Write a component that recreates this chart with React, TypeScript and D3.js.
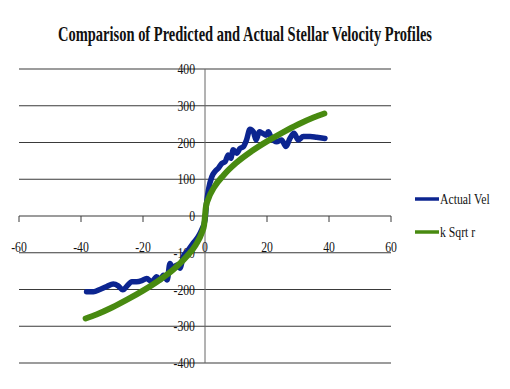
import React, { useRef, useLayoutEffect, useState } from 'react';
import * as d3 from 'd3';

// chart size in the page
const W = 510;
const H = 389;

// values
const xTicks = [-60, -40, -20, 0, 20, 40, 60];
const yTicks = [400, 300, 200, 100, 0, -100, -200, -300, -400];

// Actual Vel (radius, velocity)
const actualR = [
  -38.2, -36, -33.9, -31.7, -29.6, -28, -26.5, -25.3, -23.6, -22, -20.4, -18.8, -17.2, -15.6,
  -14.5, -13.4, -12.2, -11.3, -10.4, -9.1, -8.1, -7, -5.4, -3.8, -2.2, -1.1, 0, 0.5, 1.1, 2.2,
  3.2, 4.3, 5.4, 6.5, 7.5, 8.3, 9.1, 10.2, 11.3, 12.4, 13.4, 14.5, 15.6, 16.5, 17.5, 18.6, 19.7,
  20.4, 21.5, 23.1, 24.7, 26.1, 27.4, 28.7, 30.1, 31.7, 33.9, 36, 38.7
];
const actualV = [
  -206, -206, -200, -192, -185, -190, -201, -192, -179, -179, -176, -170, -179, -165,
  -174, -161, -174, -129, -142, -133, -142, -111, -93, -74, -56, -38, -11, 35, 71, 107,
  121, 130, 143, 148, 166, 157, 180, 171, 184, 189, 207, 236, 229, 207, 229, 225, 220,
  229, 211, 202, 207, 189, 211, 225, 207, 216, 216, 214, 211
];

// k Sqrt r (radius, velocity)
const fitR = [-38.5, -35, -30, -25, -20, -15, -10, -6, -3, -1, -0.3, 0, 0.3, 1, 3, 6, 10, 15, 20, 25, 30, 35, 38.5];
const fitV = [-279, -268, -249, -227, -203, -176, -144, -111, -79, -45, -25, 0, 25, 45, 79, 111, 144, 176, 203, 227, 249, 268, 279];

const seriesNames = ['Actual Vel', 'k Sqrt r'];
const seriesColors = ['#0c2590', '#488a10'];

const titleText = 'Comparison of Predicted and Actual Stellar Velocity Profiles';
const font = '"Liberation Serif", serif';
const squeeze = 0.84; // narrow glyphs like the reference font

// text drawn narrower horizontally
const Label = ({ x, y, anchor = 'start', size = 14, children }: any) => (
  <text transform={`translate(${x},${y}) scale(${squeeze},1)`} textAnchor={anchor}
    fontFamily={font} fontSize={size} fill="#111">{children}</text>
);

export default function App() {
  const titleRef = useRef<SVGTextElement>(null);
  const [titleScale, setTitleScale] = useState(0.7);

  useLayoutEffect(() => {
    if (titleRef.current) {
      const w = titleRef.current.getComputedTextLength();
      if (w > 0) setTitleScale(374 / w);
    }
  }, []);

  const x = d3.scaleLinear().domain([-60, 60]).range([19, 391]);
  const y = d3.scaleLinear().domain([-400, 400]).range([363, 69]);

  const line = d3.line<[number, number]>()
    .x(d => x(d[0]))
    .y(d => y(d[1]))
    .curve(d3.curveMonotoneX);

  const actual = actualR.map((r, i) => [r, actualV[i]] as [number, number]);
  const fit = fitR.map((r, i) => [r, fitV[i]] as [number, number]);

  return (
    <svg width={W} height={H} style={{ position: 'fixed', left: 0, top: 0, background: '#fff' }}>
      <g transform={`translate(245,41) scale(${titleScale},1)`}>
        <text ref={titleRef} x={0} y={0} textAnchor="middle" fontFamily={font} fontWeight="bold" fontSize={21} fill="#111">
          {titleText}
        </text>
      </g>

      {/* horizontal gridlines */}
      {yTicks.map(t => (
        <line key={'g' + t} x1={x(-60)} x2={x(60)} y1={y(t)} y2={y(t)} stroke="#3a3a3a" strokeWidth={1.2} />
      ))}
      {/* vertical axis */}
      <line x1={x(0)} x2={x(0)} y1={y(400)} y2={y(-400)} stroke="#666" strokeWidth={1} />
      {/* x tick marks */}
      {xTicks.map(t => (
        <line key={'t' + t} x1={x(t)} x2={x(t)} y1={y(0)} y2={y(0) + 6} stroke="#3a3a3a" strokeWidth={1} />
      ))}

      {yTicks.map(t => (
        <Label key={'yl' + t} x={195} y={y(t) + 5} anchor="end">{t}</Label>
      ))}
      {xTicks.map(t => (
        <Label key={'xl' + t} x={x(t)} y={252} anchor="middle">{t}</Label>
      ))}

      <path d={line(actual) || ''} fill="none" stroke={seriesColors[0]} strokeWidth={5.5} strokeLinejoin="round" strokeLinecap="round" />
      <path d={line(fit) || ''} fill="none" stroke={seriesColors[1]} strokeWidth={6} strokeLinejoin="round" strokeLinecap="round" />

      {seriesNames.map((n, i) => (
        <g key={n}>
          <line x1={415} x2={439} y1={199 + i * 33} y2={199 + i * 33} stroke={seriesColors[i]} strokeWidth={3.5} />
          <Label x={440} y={204 + i * 33}>{n}</Label>
        </g>
      ))}
    </svg>
  );
}
